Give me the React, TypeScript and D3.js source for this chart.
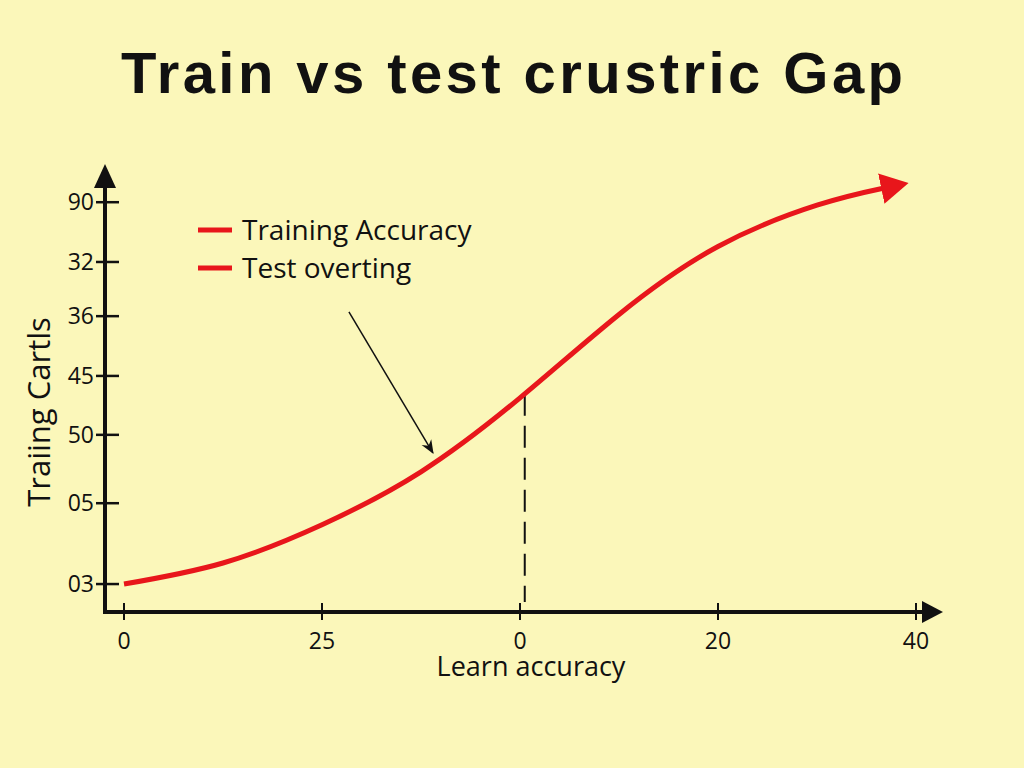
import * as d3 from 'd3';
import React, { useEffect } from 'react';

// curve samples (x in axis units 0..100, y in axis units 0..100)
const curveX = [0, 12.5, 25, 37.5, 50, 62.5, 75, 87.5, 96];
const curveY = [6.5, 11.4, 20.3, 32.6, 49.8, 69.2, 85.0, 94.6, 98.6];

const xTickValues = [0, 25, 50, 75, 100];
const xTickLabels = ['0', '25', '0', '20', '40'];

const yTickValues = [6.5, 25.3, 41.2, 54.9, 68.8, 81.4, 95.3];
const yTickLabels = ['03', '05', '50', '45', '36', '32', '90'];

const legendLabels = ['Training Accuracy', 'Test overting'];

const title = 'Train vs test crustric Gap';
const xLabel = 'Learn accuracy';
const yLabel = 'Traiing Cartls';

// dashed marker position on the curve
const markerX = 50.6;
// annotation arrow: from (x, y) to (x, y) in axis units
const annotFrom = [28.4, 69.8];
const annotTo = [39, 37];

export default function App() {
  const ref = React.useRef<HTMLDivElement>(null);

  useEffect(() => {
    if (!ref.current) return;
    ref.current.innerHTML = '';

    const W = 1024;
    const H = 768;
    const red = '#e8161b';
    const sans = '"Open Sans", "DejaVu Sans", sans-serif';

    const svg = d3
      .select(ref.current)
      .append('svg')
      .attr('width', W)
      .attr('height', H)
      .style('display', 'block');

    svg.append('rect').attr('width', W).attr('height', H).attr('fill', '#fbf7ba');

    const defs = svg.append('defs');
    defs
      .append('marker')
      .attr('id', 'redHead')
      .attr('viewBox', '0 0 10 10')
      .attr('refX', 1)
      .attr('refY', 5)
      .attr('markerUnits', 'userSpaceOnUse')
      .attr('markerWidth', 31)
      .attr('markerHeight', 31)
      .attr('orient', 'auto')
      .append('path')
      .attr('d', 'M0,0 L9,5 L0,10 Z')
      .attr('fill', red);
    defs
      .append('marker')
      .attr('id', 'blackHead')
      .attr('viewBox', '0 0 10 10')
      .attr('refX', 9)
      .attr('refY', 5)
      .attr('markerUnits', 'userSpaceOnUse')
      .attr('markerWidth', 14)
      .attr('markerHeight', 14)
      .attr('orient', 'auto')
      .append('path')
      .attr('d', 'M0,1 L10,5 L0,9 L3,5 Z')
      .attr('fill', '#111');

    const x = d3.scaleLinear().domain([0, 100]).range([124, 916]);
    const y = d3.scaleLinear().domain([0, 100]).range([612, 182]);

    // title
    svg
      .append('text')
      .attr('x', W / 2)
      .attr('y', 93)
      .attr('text-anchor', 'middle')
      .attr('font-family', '"Liberation Sans", Arial, sans-serif')
      .attr('font-weight', 'bold')
      .attr('font-size', 58)
      .attr('textLength', 782)
      .attr('lengthAdjust', 'spacing')
      .attr('fill', '#111')
      .text(title);

    const axisX0 = 105;
    const axisY0 = y(0);

    // x axis
    svg
      .append('line')
      .attr('x1', axisX0 - 2)
      .attr('x2', 925)
      .attr('y1', axisY0)
      .attr('y2', axisY0)
      .attr('stroke', '#111')
      .attr('stroke-width', 4);
    svg
      .append('path')
      .attr('d', `M922,${axisY0 - 11} L943,${axisY0} L922,${axisY0 + 11} Z`)
      .attr('fill', '#111');

    // y axis
    svg
      .append('line')
      .attr('x1', axisX0)
      .attr('x2', axisX0)
      .attr('y1', axisY0 + 2)
      .attr('y2', 185)
      .attr('stroke', '#111')
      .attr('stroke-width', 4);
    svg
      .append('path')
      .attr('d', `M${axisX0 - 11},188 L${axisX0},164 L${axisX0 + 11},188 Z`)
      .attr('fill', '#111');

    // x ticks
    const xt = svg.append('g');
    xTickValues.forEach((v, i) => {
      xt.append('line')
        .attr('x1', x(v))
        .attr('x2', x(v))
        .attr('y1', axisY0 - 9)
        .attr('y2', axisY0 + 8)
        .attr('stroke', '#111')
        .attr('stroke-width', 2);
      xt.append('text')
        .attr('x', x(v))
        .attr('y', axisY0 + 37)
        .attr('text-anchor', 'middle')
        .attr('font-family', sans)
        .attr('font-size', 23)
        .attr('fill', '#111')
        .text(xTickLabels[i]);
    });

    // y ticks
    const yt = svg.append('g');
    yTickValues.forEach((v, i) => {
      yt.append('line')
        .attr('x1', axisX0 - 9)
        .attr('x2', axisX0 + 14)
        .attr('y1', y(v))
        .attr('y2', y(v))
        .attr('stroke', '#111')
        .attr('stroke-width', 2.5);
      yt.append('text')
        .attr('x', axisX0 - 11)
        .attr('y', y(v))
        .attr('dy', '0.35em')
        .attr('text-anchor', 'end')
        .attr('font-family', sans)
        .attr('font-size', 23)
        .attr('fill', '#111')
        .text(yTickLabels[i]);
    });

    // axis labels
    svg
      .append('text')
      .attr('x', 531)
      .attr('y', 676)
      .attr('text-anchor', 'middle')
      .attr('font-family', sans)
      .attr('font-size', 27)
      .attr('fill', '#111')
      .text(xLabel);
    svg
      .append('text')
      .attr('transform', 'translate(50,412) rotate(-90)')
      .attr('text-anchor', 'middle')
      .attr('font-family', sans)
      .attr('font-size', 31)
      .attr('fill', '#111')
      .text(yLabel);

    // dashed marker
    const curveData = curveX.map((v, i) => [v, curveY[i]] as [number, number]);
    const interp = d3.scaleLinear().domain(curveX).range(curveY);
    svg
      .append('line')
      .attr('x1', x(markerX))
      .attr('x2', x(markerX))
      .attr('y1', y(interp(markerX)))
      .attr('y2', axisY0 - 10)
      .attr('stroke', '#111')
      .attr('stroke-width', 2)
      .attr('stroke-dasharray', '22 10');

    // main curve
    svg
      .append('path')
      .datum(curveData)
      .attr('fill', 'none')
      .attr('stroke', red)
      .attr('stroke-width', 5)
      .attr('stroke-linecap', 'butt')
      .attr('marker-end', 'url(#redHead)')
      .attr(
        'd',
        d3
          .line<[number, number]>()
          .x(d => x(d[0]))
          .y(d => y(d[1]))
          .curve(d3.curveNatural)
      );

    // annotation arrow
    svg
      .append('line')
      .attr('x1', x(annotFrom[0]))
      .attr('y1', y(annotFrom[1]))
      .attr('x2', x(annotTo[0]))
      .attr('y2', y(annotTo[1]))
      .attr('stroke', '#111')
      .attr('stroke-width', 1.5)
      .attr('marker-end', 'url(#blackHead)');

    // legend
    const legend = svg
      .selectAll('.legend')
      .data(legendLabels)
      .enter()
      .append('g')
      .attr('class', 'legend')
      .attr('transform', (d, i) => `translate(198,${230 + i * 38})`);
    legend
      .append('line')
      .attr('x1', 0)
      .attr('x2', 34)
      .attr('stroke', red)
      .attr('stroke-width', 5);
    legend
      .append('text')
      .attr('x', 44)
      .attr('dy', '0.35em')
      .attr('font-family', sans)
      .attr('font-size', 28)
      .attr('fill', '#111')
      .text(d => d);
  }, []);

  return <div ref={ref} style={{ position: 'absolute', left: 0, top: 0 }}></div>;
}
